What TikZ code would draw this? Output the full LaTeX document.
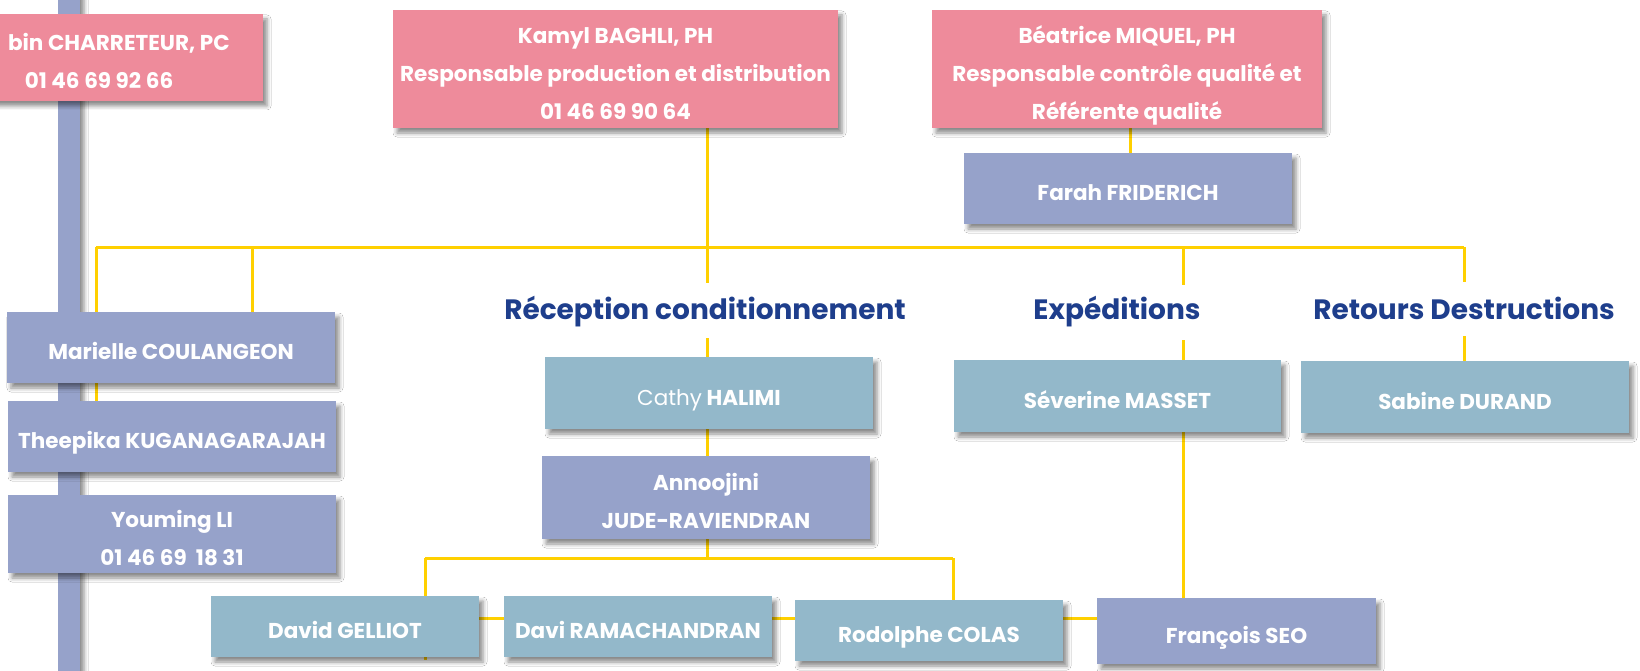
\documentclass[tikz,border=0pt]{standalone}
\usepackage{fontspec}
\setmainfont{Poppins}
\usetikzlibrary{shadows.blur}
\definecolor{pinkc}{RGB}{238,139,155}
\definecolor{lavc}{RGB}{150,162,202}
\definecolor{tealc}{RGB}{147,184,202}
\definecolor{yelc}{RGB}{255,208,0}
\definecolor{navyc}{RGB}{30,62,140}
\newlength\rcw
\newcommand\bt[1]{\raisebox{-4.5pt}[\height][\depth]{\begin{tabular}{@{}c@{}}#1\end{tabular}}}
\pgfdeclarelayer{bg}
\pgfsetlayers{bg,main}
\begin{document}
\begin{tikzpicture}[x=1pt,y=-1pt,
  shad/.style={blur shadow={shadow xshift=4pt, shadow yshift=-5pt, shadow opacity=45, shadow blur radius=4pt}},
  boxbase/.style={rectangle, inner sep=0pt, text=white, font=\fontsize{21.5}{38}\selectfont\bfseries, shad},
  pinkbox/.style={boxbase, fill=pinkc},
  lavbox/.style={boxbase, fill=lavc},
  tealbox/.style={boxbase, fill=tealc},
  head/.style={text=navyc, font=\fontsize{28}{32}\selectfont\bfseries, inner sep=0pt},
  link/.style={draw=yelc, line width=3pt}]
\useasboundingbox (0,0) rectangle (1640,671);

% boxes
\node[pinkbox, minimum width=328pt, minimum height=87pt] (charr) at (99,57.5)
  {\bt{\settowidth{\rcw}{Robin CHARRETEUR, PC}\addtolength{\rcw}{12pt}\makebox[\rcw][r]{bin CHARRETEUR, PC}\\01 46 69 92 66}};
\node[pinkbox, minimum width=445pt, minimum height=118pt] (kamyl) at (615.5,69)
  {\bt{Kamyl BAGHLI, PH\\Responsable production et distribution\\01 46 69 90 64}};
\node[pinkbox, minimum width=390pt, minimum height=118pt] (beat) at (1127,69)
  {\bt{Béatrice MIQUEL, PH\\Responsable contrôle qualité et\\Référente qualité}};
\node[lavbox, minimum width=328pt, minimum height=71pt] (farah) at (1128,188.5) {\bt{Farah FRIDERICH}};

\node[lavbox, minimum width=328pt, minimum height=71pt] (marielle) at (171,347.5) {\bt{Marielle COULANGEON}};
\node[lavbox, minimum width=328pt, minimum height=71pt] (theepika) at (172,436.5) {\bt{Theepika KUGANAGARAJAH}};
\node[lavbox, minimum width=328pt, minimum height=78pt] (youming) at (172,534) {\bt{Youming LI\\01 46 69\ \ 18 31}};

\node[head] (recep) at (705,312) {Réception conditionnement};
\node[head] (exped) at (1117,312) {Expéditions};
\node[head] (retours) at (1464,308) {Retours Destructions};

\node[tealbox, minimum width=328pt, minimum height=72pt] (cathy) at (709,393) {\bt{{\mdseries Cathy} HALIMI}};
\node[lavbox, minimum width=328pt, minimum height=83pt] (annoo) at (706,497.5) {\bt{Annoojini\\JUDE-RAVIENDRAN}};
\node[tealbox, minimum width=327pt, minimum height=72pt] (severine) at (1117.5,396) {\bt{Séverine MASSET}};
\node[tealbox, minimum width=328pt, minimum height=72pt] (sabine) at (1465,397) {\bt{Sabine DURAND}};

\node[tealbox, minimum width=268pt, minimum height=61pt] (david) at (345,626.5) {\bt{David GELLIOT}};
\node[tealbox, minimum width=268pt, minimum height=61pt] (davi) at (638,626.5) {\bt{Davi RAMACHANDRAN}};
\node[tealbox, minimum width=268pt, minimum height=61pt] (rodolphe) at (929,630.5) {\bt{Rodolphe COLAS}};
\node[lavbox, minimum width=279pt, minimum height=66pt] (francois) at (1236.5,631) {\bt{François SEO}};

% connector coordinates
\coordinate (busL) at (96,247);
\coordinate (busM) at (252,247);
\coordinate (busK) at (707,247);
\coordinate (busE) at (1183,247);
\coordinate (busR) at (1464,247);
\coordinate (recT) at (707,283);
\coordinate (recB) at (707,338);
\coordinate (expT) at (1183,285);
\coordinate (expB) at (1183,340);
\coordinate (retT) at (1464,282);
\coordinate (retB) at (1464,336);
\coordinate (subL) at (425,558);
\coordinate (subK) at (707,558);
\coordinate (subR) at (953,558);
\coordinate (davidEnd) at (425,660);
\coordinate (qual) at (1130,0);
\coordinate (chainY) at (0,618);

\begin{pgfonlayer}{bg}
  \fill[white] (0,0) rectangle (1640,671);
  \fill[lavc, shad] (58,-20) rectangle (80,700);
  \draw[link] (busL) -- (busR);
  \draw[link] (busL) -- (theepika.north -| busL);
  \draw[link] (busM) -- (marielle.north -| busM);
  \draw[link] (kamyl.south -| busK) -- (recT);
  \draw[link] (recB) -- (cathy.north -| recB);
  \draw[link] (cathy.south -| recB) -- (annoo.north -| recB);
  \draw[link] (annoo.south -| subK) -- (subK);
  \draw[link] (beat.south -| qual) -- (farah.north -| qual);
  \draw[link] (busE) -- (expT);
  \draw[link] (expB) -- (severine.north -| expB);
  \draw[link] (severine.south -| expB) -- (francois.north -| expB);
  \draw[link] (busR) -- (retT);
  \draw[link] (retB) -- (sabine.north -| retB);
  \draw[link] (subL) -- (subR);
  \draw[link] (subL) -- (davidEnd);
  \draw[link] (subR) -- (rodolphe.north -| subR);
  \draw[link] (david.east |- chainY) -- (francois.west |- chainY);
\end{pgfonlayer}
\end{tikzpicture}
\end{document}
